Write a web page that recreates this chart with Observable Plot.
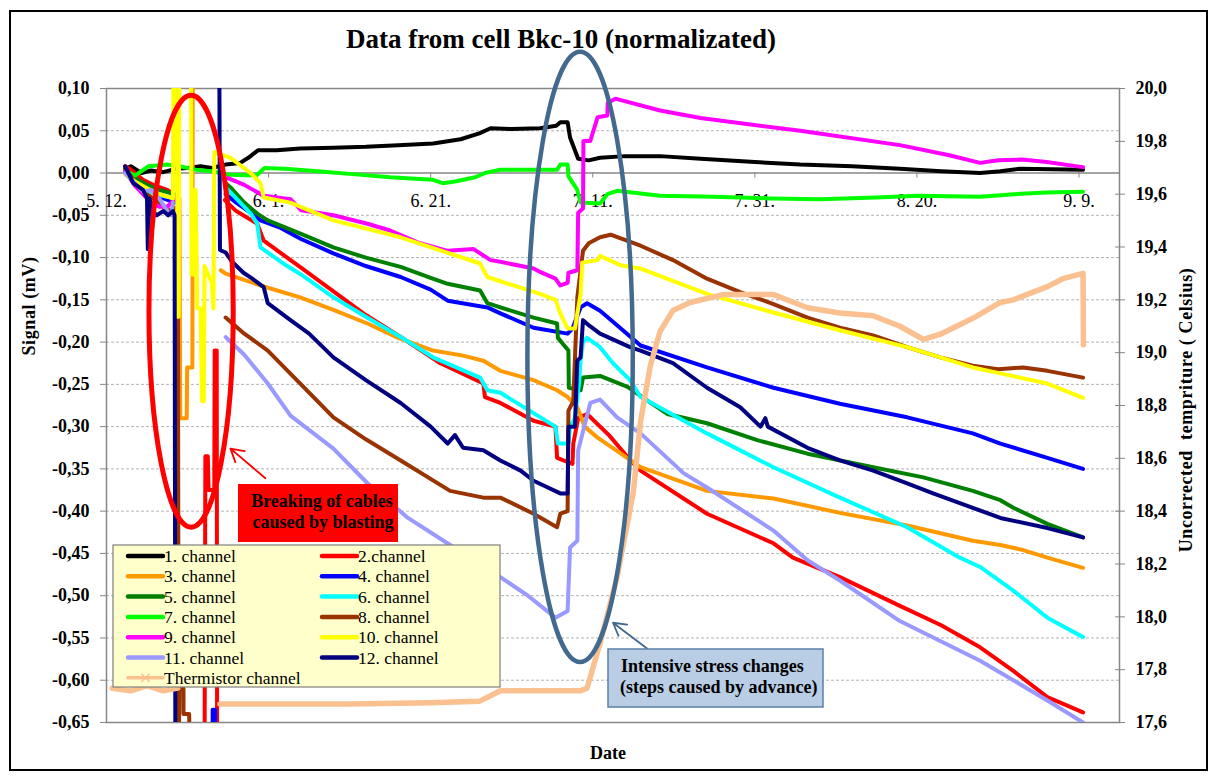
<!DOCTYPE html>
<html><head><meta charset="utf-8">
<script src="https://cdn.jsdelivr.net/npm/d3@7"></script>
<script src="https://cdn.jsdelivr.net/npm/@observablehq/plot@0.6"></script>
<style>
html,body{margin:0;padding:0;background:#fff;}
#wrap{position:relative;width:1218px;height:780px;overflow:hidden;font-family:"Liberation Serif","Times New Roman",serif;}
#frame{position:absolute;left:9px;top:10px;width:1199px;height:761px;box-sizing:border-box;border:2px solid #000;}
#wrap svg{position:absolute;left:0;top:0;}
</style></head><body>
<div id="wrap"><div id="frame"></div></div>
<script>
// ---- axis ticks ----
const xTickDays = [0, 20, 40, 60, 80, 100, 120];
const xTickLabels = ["5. 12.", "6. 1.", "6. 21.", "7. 11.", "7. 31.", "8. 20.", "9. 9."];
const yTicks = [0.10, 0.05, 0.00, -0.05, -0.10, -0.15, -0.20, -0.25, -0.30, -0.35, -0.40, -0.45, -0.50, -0.55, -0.60, -0.65];
const gridVals = [0.05, -0.05, -0.10, -0.15, -0.20, -0.25, -0.30, -0.35, -0.40, -0.45, -0.50, -0.55, -0.60];
const tempTicks = [17.6, 17.8, 18.0, 18.2, 18.4, 18.6, 18.8, 19.0, 19.2, 19.4, 19.6, 19.8, 20.0];

// ---- series: [day since 5.12., signal mV]; null = gap ----
const ch1 = [[2.3,0.005],[3,0.008],[4.3,0.0],[5.5,0.003],[7,0.001],[8.5,0.005],[10,0.006],[11.6,0.008],[13,0.006],[14.7,0.010],[16.5,0.012],[17.5,0.018],[18.7,0.027],[21,0.027],[23.9,0.029],[28,0.030],[32,0.031],[36,0.033],[40.3,0.035],[43.7,0.040],[46,0.047],[47.4,0.053],[50,0.052],[53.5,0.053],[55.5,0.056],[56,0.060],[56.9,0.060],[57.2,0.042],[58.2,0.017],[59.5,0.015],[60.9,0.018],[64,0.020],[68.3,0.020],[73.3,0.017],[80,0.013],[85.6,0.010],[92,0.008],[97.9,0.005],[103,0.002],[107.8,0.000],[110.3,0.002],[112.7,0.005],[120.5,0.004]];
const ch2 = [[2.3,0.008],[3,0.004],[4.5,-0.008],[6,-0.015],[7.5,-0.02],[8.3,-0.025],[8.4,null],[12.1,-0.70],[12.2,-0.335],[12.5,-0.335],[12.6,-0.375],[13.3,-0.375],[13.35,-0.21],[13.6,-0.21],[13.65,-0.70],[13.7,null],[14.6,-0.032],[16,-0.045],[18.6,-0.060],[19.4,-0.080],[24,-0.112],[28,-0.14],[32,-0.168],[36.3,-0.194],[41.2,-0.225],[46.5,-0.249],[46.7,-0.265],[48.6,-0.272],[52.7,-0.293],[55.4,-0.30],[55.6,-0.337],[57.5,-0.344],[57.6,-0.32],[58.2,-0.29],[59.3,-0.285],[62,-0.31],[64.3,-0.336],[65.9,-0.352],[71.2,-0.385],[74.1,-0.403],[82.3,-0.438],[84.7,-0.455],[90.5,-0.478],[97.9,-0.512],[103,-0.535],[107.8,-0.561],[111.9,-0.589],[116.1,-0.62],[120.5,-0.638]];
const ch3 = [[2.3,0.0],[3.5,-0.008],[5,-0.018],[6.5,-0.025],[8,-0.03],[9.0,-0.03],[9.1,-0.29],[9.9,-0.29],[9.95,-0.23],[10.6,-0.23],[10.65,0.2],[12.1,0.2],[12.15,null],[14.1,-0.115],[14.7,-0.119],[19,-0.133],[23.9,-0.147],[28,-0.162],[32.2,-0.178],[36,-0.195],[40.3,-0.21],[44,-0.216],[46.5,-0.222],[48.6,-0.234],[52.7,-0.245],[55.6,-0.257],[56.9,-0.265],[58.1,-0.277],[59,-0.30],[60.6,-0.313],[65.9,-0.348],[74.1,-0.376],[82.3,-0.385],[90.5,-0.402],[98.8,-0.417],[106.9,-0.435],[110.3,-0.44],[113.1,-0.446],[116.1,-0.455],[120.5,-0.467]];
const ch4 = [[2.3,0.003],[3.5,-0.008],[5,-0.018],[6.5,-0.028],[8.4,-0.035],[8.5,null],[13.1,-0.70],[13.1,-0.635],[13.4,-0.635],[13.4,-0.70],[13.5,null],[14.7,-0.025],[16,-0.035],[17.5,-0.045],[19.0,-0.056],[21.5,-0.065],[24,-0.078],[28,-0.095],[32,-0.11],[36.3,-0.123],[40,-0.138],[42.1,-0.151],[47.0,-0.159],[48.6,-0.166],[52.7,-0.183],[56.9,-0.19],[57.5,-0.184],[58.5,-0.159],[59.3,-0.154],[60.9,-0.163],[63,-0.18],[65.9,-0.204],[74.1,-0.23],[82.3,-0.254],[90.5,-0.273],[98.8,-0.289],[106.9,-0.308],[110.3,-0.32],[116.1,-0.337],[120.5,-0.35]];
const ch5 = [[2.3,0.002],[3.5,-0.006],[5,-0.014],[6.5,-0.02],[8.4,-0.025],[8.5,null],[14.7,-0.012],[15.3,-0.017],[17,-0.035],[18.6,-0.048],[19.9,-0.056],[24,-0.072],[28,-0.088],[32,-0.10],[36.3,-0.111],[40,-0.124],[42.1,-0.131],[46.1,-0.139],[47.0,-0.154],[48.6,-0.159],[52.7,-0.171],[55.6,-0.178],[55.7,-0.195],[57.0,-0.21],[57.05,-0.254],[58.5,-0.257],[58.8,-0.242],[60.9,-0.240],[64.3,-0.253],[66.7,-0.269],[69.2,-0.285],[74.1,-0.296],[80.3,-0.316],[86.5,-0.332],[94.6,-0.348],[100.8,-0.36],[106.9,-0.376],[110.3,-0.387],[111.9,-0.396],[116.1,-0.415],[120.5,-0.431]];
const ch6 = [[2.3,0.0],[3.5,-0.012],[5,-0.02],[6.5,-0.026],[8.4,-0.03],[8.5,null],[14.7,-0.017],[16,-0.03],[17.8,-0.048],[18.6,-0.06],[19.0,-0.088],[21.8,-0.107],[24,-0.12],[28,-0.147],[32,-0.17],[36.3,-0.194],[40.3,-0.218],[46.1,-0.242],[47.0,-0.257],[48.6,-0.26],[52.7,-0.284],[55.4,-0.30],[55.7,-0.32],[57.0,-0.32],[57.2,-0.30],[57.8,-0.29],[58.3,-0.25],[58.5,-0.222],[58.8,-0.20],[59.3,-0.195],[60.9,-0.206],[62.5,-0.225],[64.6,-0.245],[65.9,-0.265],[66.7,-0.269],[74.1,-0.308],[82.3,-0.348],[90.5,-0.384],[98.8,-0.419],[105.3,-0.455],[107.8,-0.466],[111.9,-0.494],[116.1,-0.526],[120.5,-0.549]];
const ch7 = [[2.3,0.003],[3.5,-0.003],[5.2,0.008],[7.5,0.01],[9,0.008],[11,0.004],[13,0.002],[15.3,-0.002],[18.5,-0.003],[19.5,0.006],[22,0.005],[26,0.002],[30,-0.001],[35,-0.005],[40.3,-0.008],[41.5,-0.012],[43,-0.01],[45.5,-0.005],[46.7,0.0],[48.6,0.004],[55.6,0.004],[56.0,0.01],[56.9,0.01],[57.0,-0.004],[58.1,-0.02],[58.5,-0.035],[60.9,-0.036],[61.8,-0.025],[63,-0.021],[68.3,-0.027],[75,-0.028],[82,-0.030],[88,-0.031],[95,-0.029],[100,-0.027],[107.8,-0.028],[112,-0.025],[116,-0.023],[120.5,-0.022]];
const ch8 = [[2.3,0.005],[3.5,-0.01],[5,-0.025],[6.5,-0.035],[7.5,-0.045],[8.8,-0.04],[8.9,-0.70],[9.0,-0.61],[9.5,-0.61],[9.5,-0.64],[10.2,-0.64],[10.3,-0.70],[10.4,null],[14.7,-0.171],[17,-0.19],[19.9,-0.21],[24,-0.25],[28,-0.289],[32,-0.315],[36.3,-0.34],[42.4,-0.376],[46.5,-0.384],[48.6,-0.384],[52.7,-0.403],[55.6,-0.419],[56.0,-0.403],[56.9,-0.40],[57.0,-0.281],[57.6,-0.27],[58.1,-0.147],[58.8,-0.092],[59.5,-0.083],[60.9,-0.076],[62.2,-0.073],[65.9,-0.086],[69.9,-0.103],[74.1,-0.125],[78.2,-0.141],[82.3,-0.155],[86.5,-0.171],[90.5,-0.183],[94.6,-0.192],[98.8,-0.206],[102.9,-0.218],[106.9,-0.228],[110,-0.232],[113.1,-0.23],[116.1,-0.234],[120.5,-0.242]];
const ch9 = [[2.3,0.002],[3.5,-0.015],[4.5,-0.025],[5.5,-0.035],[6.5,-0.04],[7.5,-0.04],[8.5,-0.03],[8.6,null],[15,-0.006],[17,-0.014],[19.4,-0.027],[22.7,-0.031],[24,-0.044],[28,-0.05],[32.2,-0.06],[35,-0.068],[38.4,-0.082],[42.1,-0.092],[45.3,-0.09],[47.4,-0.103],[48.6,-0.105],[52.7,-0.113],[53.5,-0.117],[55.4,-0.125],[56.0,-0.133],[56.9,-0.13],[57.0,-0.118],[58.1,-0.115],[58.2,-0.047],[58.8,-0.042],[58.85,0.038],[59.7,0.038],[60.6,0.066],[61.8,0.068],[61.85,0.083],[62.8,0.088],[68.3,0.074],[73.3,0.065],[85.6,0.05],[97.9,0.033],[104,0.021],[107.8,0.012],[110,0.015],[113,0.016],[116,0.013],[120.5,0.007]];
const ch10 = [[2.3,-0.002],[3.5,-0.01],[5,-0.018],[6.5,-0.025],[8.2,-0.03],[8.3,0.2],[8.7,0.2],[8.75,-0.17],[8.9,-0.17],[9.0,0.2],[10.4,0.2],[10.5,-0.12],[10.7,-0.12],[10.8,-0.02],[11.0,-0.02],[11.2,-0.16],[11.6,-0.16],[11.8,-0.27],[12.0,-0.27],[12.1,-0.11],[13.0,-0.13],[13.2,-0.16],[13.3,0.025],[15.3,0.018],[17.8,0.0],[19.0,-0.012],[19.4,-0.029],[22.7,-0.035],[28,-0.056],[36.3,-0.076],[46.1,-0.107],[47.0,-0.123],[48.6,-0.128],[53.5,-0.143],[55.4,-0.15],[56.0,-0.166],[56.9,-0.184],[57.8,-0.184],[58.5,-0.143],[58.7,-0.106],[60.6,-0.103],[60.9,-0.098],[63.4,-0.109],[65.9,-0.113],[74.1,-0.143],[82.3,-0.165],[90.5,-0.186],[98.8,-0.206],[106.9,-0.23],[110.3,-0.237],[116.1,-0.249],[120.5,-0.266]];
const ch11 = [[2.3,0.0],[3.5,-0.012],[4.5,-0.022],[5.5,-0.02],[6.5,-0.03],[7.5,-0.045],[8.0,-0.05],[8.2,-0.035],[8.25,null],[14.7,-0.194],[17,-0.215],[19.9,-0.249],[22.7,-0.287],[28,-0.326],[32.2,-0.367],[37.2,-0.408],[42.4,-0.44],[48.6,-0.478],[52,-0.50],[55.4,-0.526],[56.9,-0.518],[57.2,-0.443],[58.1,-0.435],[58.2,-0.328],[59.7,-0.272],[60.9,-0.268],[63,-0.289],[65.9,-0.308],[71.2,-0.355],[74.1,-0.372],[82.3,-0.423],[86.5,-0.458],[90.5,-0.482],[97.9,-0.53],[107.8,-0.577],[111.9,-0.60],[116.1,-0.624],[120.5,-0.65]];
const ch12 = [[2.3,0.008],[2.8,-0.002],[3.3,-0.012],[4.5,-0.02],[5.0,-0.03],[5.1,-0.09],[5.3,-0.03],[5.7,-0.045],[6.2,-0.05],[7.0,-0.045],[7.6,-0.05],[8.2,-0.045],[8.4,-0.05],[8.5,-0.70],[8.6,null],[13.9,0.2],[14.0,-0.091],[14.7,-0.094],[15.5,-0.105],[16.9,-0.118],[18,-0.125],[19.4,-0.135],[19.9,-0.154],[22.7,-0.174],[25,-0.19],[28,-0.218],[32,-0.245],[36.3,-0.272],[40,-0.30],[42.1,-0.32],[43,-0.31],[44,-0.325],[46.5,-0.328],[48.6,-0.34],[51.1,-0.352],[52.7,-0.364],[54,-0.37],[56.0,-0.379],[56.9,-0.379],[57.0,-0.30],[57.8,-0.30],[58.1,-0.222],[58.5,-0.218],[58.8,-0.174],[59.5,-0.18],[60.9,-0.19],[64.6,-0.206],[65.9,-0.21],[69.9,-0.225],[74.1,-0.254],[78.2,-0.277],[80.7,-0.30],[81.3,-0.29],[81.6,-0.30],[86.5,-0.325],[90.5,-0.34],[94.6,-0.352],[98.8,-0.367],[102,-0.379],[106.9,-0.396],[110.3,-0.408],[116.1,-0.42],[120.5,-0.431]];
// thermistor: [day, °C] on right axis
const thermistor = [[0.7,17.73],[3,17.72],[5,17.74],[7,17.72],[8.8,17.73],[8.9,null],[14.0,17.67],[20,17.67],[30,17.67],[40,17.675],[46,17.68],[48.6,17.72],[52,17.72],[56,17.72],[58.5,17.72],[59.3,17.73],[60.9,17.90],[63,18.15],[65,18.47],[65.9,18.74],[67.1,18.95],[68.3,19.08],[69.9,19.16],[72.0,19.19],[76.1,19.22],[82.3,19.22],[86.5,19.17],[90.5,19.15],[94.6,19.14],[97.9,19.10],[100.8,19.05],[102.9,19.07],[106.9,19.13],[110.3,19.19],[111.9,19.2],[116.1,19.25],[118,19.28],[120.5,19.30],[120.55,19.03]];

const channelNames = ["1. channel","2.channel","3. channel","4. channel","5. channel","6. channel","7. channel","8. channel","9. channel","10. channel","11. channel","12. channel","Thermistor channel"];
const channelColors = ["#000000","#ff0000","#ff9900","#0000ff","#008000","#00ffff","#00ff00","#993300","#ff00ff","#ffff00","#9999ff","#000080","#fac090"];

// ---- helpers ----
const T0 = 17.6, T1 = 20.0, S0 = -0.65, S1 = 0.10;
const tempToSignal = t => S0 + (t - T0) * (S1 - S0) / (T1 - T0);
const signalToTemp = s => T0 + (s - S0) * (T1 - T0) / (S1 - S0);
const fmtSignal = v => (Math.abs(v) < 1e-9 ? 0 : v).toFixed(2).replace(".", ",");
const fmtTemp = v => signalToTemp(v).toFixed(1).replace(".", ",");
const toRows = arr => arr.map(([d, v]) => ({d, v: v == null ? NaN : v}));

const signalSeries = [ch1, ch2, ch3, ch4, ch5, ch6, ch7, ch8, ch9, ch10, ch11, ch12];
const thermRows = thermistor.map(([d, t]) => ({d, v: t == null ? NaN : tempToSignal(t)}));
const FONT = "Liberation Serif, Times New Roman, serif";

const lineMarks = signalSeries.map((s, i) =>
  Plot.line(toRows(s), {x: "d", y: "v", stroke: channelColors[i], strokeWidth: 4, clip: true,
    strokeLinejoin: "round", strokeLinecap: "round"}));

const plot = Plot.plot({
  width: 1218, height: 780,
  marginLeft: 106, marginRight: 99, marginTop: 88, marginBottom: 58,
  x: {domain: [0, 125], axis: null},
  y: {domain: [S0, S1]},
  style: {background: "transparent", fontFamily: FONT, fontSize: "16px", overflow: "visible"},
  marks: [
    Plot.ruleY(gridVals, {stroke: "#b3b3b3", strokeDasharray: "3,2", strokeWidth: 1}),
    Plot.ruleY([0], {stroke: "#868686", strokeWidth: 1.5}),
    Plot.frame({stroke: "#868686", strokeWidth: 1.5}),
    Plot.ruleX(xTickDays, {y1: 0, y2: -0.006, stroke: "#868686", strokeWidth: 1}),
    Plot.text(xTickDays, {x: d => d, y: 0, text: (d, i) => xTickLabels[i], dy: 28, fontSize: 18, fill: "#000"}),
    ...lineMarks,
    Plot.line(thermRows, {x: "d", y: "v", stroke: channelColors[12], strokeWidth: 5.5, clip: true,
      strokeLinejoin: "round"}),
    Plot.axisY(yTicks, {anchor: "left", tickSize: 6, tickPadding: 11, tickFormat: fmtSignal,
      fontSize: 18, fontWeight: "bold", stroke: "#868686", fill: "#000", label: null}),
    Plot.axisY(tempTicks.map(tempToSignal), {anchor: "right", tickSize: 5, tickPadding: 11, tickFormat: fmtTemp,
      fontSize: 18, fontWeight: "bold", stroke: "#868686", fill: "#000", label: null}),
    Plot.axisY(tempTicks.map(tempToSignal), {anchor: "right", tickSize: -5, tickFormat: () => "",
      stroke: "#868686", label: null}),
    Plot.arrow([0], {x1: 19.6, y1: -0.361, x2: 15.3, y2: -0.326, stroke: "#ff0000", strokeWidth: 1.8, headLength: 12}),
    Plot.arrow([0], {x1: 66.7, y1: -0.5625, x2: 62.5, y2: -0.532, stroke: "#41688f", strokeWidth: 1.8, headLength: 12})
  ]
});

document.getElementById("wrap").appendChild(plot);

// ---- annotations (placed through the plot scales) ----
const sx = plot.scale("x"), sy = plot.scale("y");
const svg = d3.select(plot);
const px = d => sx.apply(d), py = v => sy.apply(v);
const g = svg.append("g").attr("font-family", FONT).attr("text-anchor", "start");

// red ellipse (blasting)
g.append("ellipse").attr("cx", px(10.5)).attr("cy", py(-0.164))
  .attr("rx", px(10.5) - px(5.3)).attr("ry", py(-0.164 - 0.2555) - py(-0.164))
  .attr("fill", "none").attr("stroke", "#ff0000").attr("stroke-width", 5);
// blue ellipse (advance)
g.append("ellipse").attr("cx", px(58.5)).attr("cy", py(-0.218))
  .attr("rx", px(58.5) - px(52.0)).attr("ry", py(-0.218 - 0.361) - py(-0.218))
  .attr("fill", "none").attr("stroke", "#44698f").attr("stroke-width", 4.5);

// red note box
g.append("rect").attr("x", 238).attr("y", 484).attr("width", 160).attr("height", 58).attr("fill", "#ff0000");
g.append("text").attr("x", 322).attr("y", 507).attr("text-anchor", "middle").attr("font-weight", "bold")
  .attr("font-size", 18).text("Breaking of cables");
g.append("text").attr("x", 323).attr("y", 528).attr("text-anchor", "middle").attr("font-weight", "bold")
  .attr("font-size", 18).text("caused by blasting");

// blue note box
g.append("rect").attr("x", 608).attr("y", 649).attr("width", 215).attr("height", 58)
  .attr("fill", "#b9cde5").attr("stroke", "#5b80a8").attr("stroke-width", 1.5);
g.append("text").attr("x", 621).attr("y", 672).attr("font-weight", "bold").attr("font-size", 18)
  .text("Intensive stress changes");
g.append("text").attr("x", 620).attr("y", 693).attr("font-weight", "bold").attr("font-size", 18)
  .text("(steps caused by advance)");

// legend
const lg = g.append("g");
lg.append("rect").attr("x", 113).attr("y", 545).attr("width", 387).attr("height", 142)
  .attr("fill", "#ffffcc").attr("stroke", "#7f7f7f").attr("stroke-width", 1.2);
channelNames.forEach((name, i) => {
  let col, row;
  if (i === 12) { col = 0; row = 6; }
  else { col = i % 2; row = Math.floor(i / 2); }
  const x1 = col === 0 ? 128 : 322, x2 = x1 + 35, ty = 556 + row * 20.3;
  lg.append("line").attr("x1", x1).attr("x2", x2).attr("y1", ty).attr("y2", ty)
    .attr("stroke", channelColors[i]).attr("stroke-width", i === 12 ? 3.5 : 4.5).attr("stroke-linecap", "round");
  if (i === 12) {
    const cx = (x1 + x2) / 2;
    lg.append("path").attr("d", `M${cx-4},${ty-4}L${cx+4},${ty+4}M${cx-4},${ty+4}L${cx+4},${ty-4}`)
      .attr("stroke", channelColors[i]).attr("stroke-width", 1.5);
  }
  lg.append("text").attr("x", x2 + 1).attr("y", ty + 6).attr("text-anchor", "start")
    .attr("font-size", 17.5).attr("fill", "#000").text(name);
});

// titles
g.append("text").attr("x", 561).attr("y", 48).attr("text-anchor", "middle").attr("font-weight", "bold")
  .attr("font-size", 27).text("Data from cell Bkc-10 (normalizated)");
g.append("text").attr("x", 608).attr("y", 759).attr("text-anchor", "middle").attr("font-weight", "bold")
  .attr("font-size", 18).text("Date");
g.append("text").attr("transform", "translate(35,306) rotate(-90)").attr("text-anchor", "middle")
  .attr("font-weight", "bold").attr("font-size", 18).attr("letter-spacing", 0.6).text("Signal (mV)");
g.append("text").attr("transform", "translate(1192,410) rotate(-90)").attr("text-anchor", "middle")
  .attr("font-weight", "bold").attr("font-size", 18).attr("letter-spacing", 0.6).style("white-space", "pre")
  .text("Uncorrected  tempriture ( Celsius)");
</script>
</body></html>
